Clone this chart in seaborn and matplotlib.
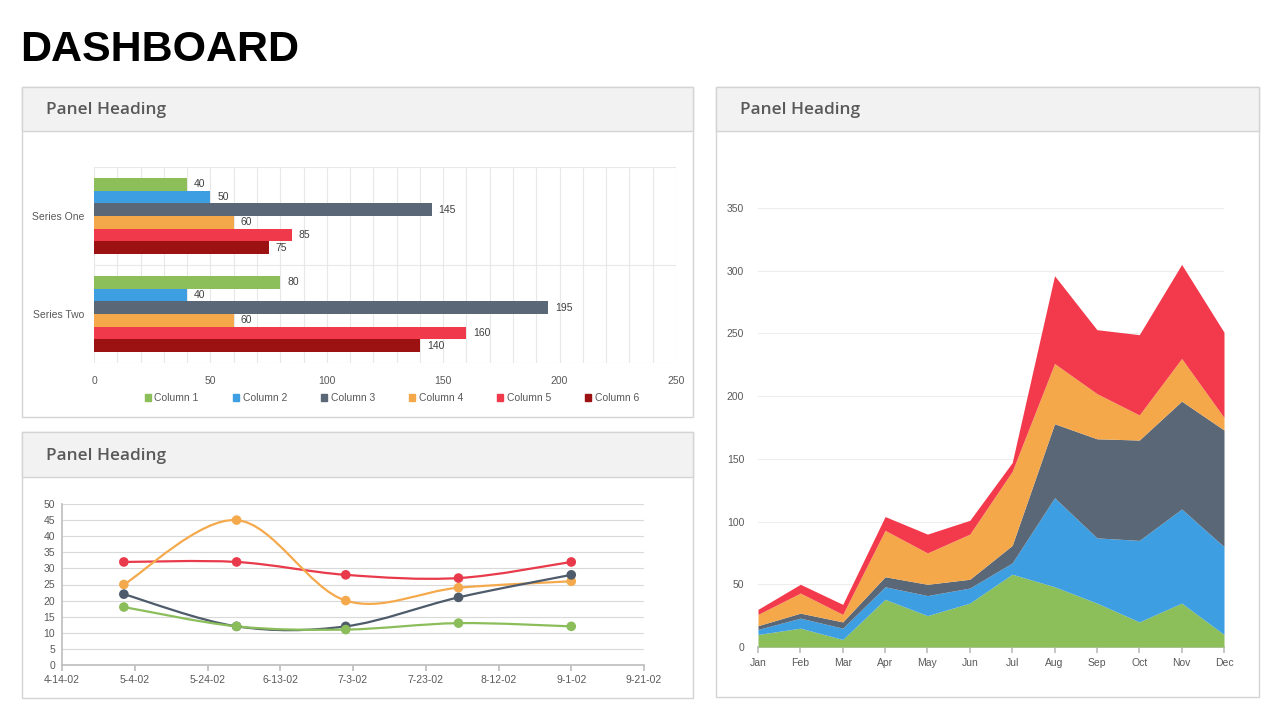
import matplotlib
matplotlib.use("Agg")
import matplotlib.pyplot as plt
import matplotlib.dates as mdates
from matplotlib.patches import Rectangle, PathPatch, Patch
from matplotlib.path import Path
from matplotlib.ticker import MultipleLocator, FuncFormatter
import pandas as pd
import seaborn as sns

# --- données du graphique en barres
bar_series = ["Series One", "Series Two"]
bar_columns = ["Column 1", "Column 2", "Column 3", "Column 4", "Column 5", "Column 6"]
series_one = [40, 50, 145, 60, 85, 75]
series_two = [80, 40, 195, 60, 160, 140]
bar_colors = ["#8CBF59", "#3D9FE2", "#5A6777", "#F5A84A", "#F0394B", "#9C1212"]

# --- données du graphique en courbes
line_dates = ["2002-05-01", "2002-06-01", "2002-07-01", "2002-08-01", "2002-09-01"]
line_names = ["red", "orange", "gray", "green"]
line_red = [32, 32, 28, 27, 32]
line_orange = [25, 45, 20, 24, 26]
line_gray = [22, 12, 12, 21, 28]
line_green = [18, 12, 11, 13, 12]
line_colors = {"red": "#E83A4A", "orange": "#F4AA4C", "gray": "#4E5B6B", "green": "#8BBE5A"}

# --- données du graphique en aires empilées
months = ["Jan", "Feb", "Mar", "Apr", "May", "Jun", "Jul", "Aug", "Sep", "Oct", "Nov", "Dec"]
area_green = [10, 15, 6, 38, 25, 35, 58, 48, 35, 20, 35, 10]
area_blue = [4, 8, 9, 10, 16, 12, 9, 71, 52, 65, 75, 70]
area_gray = [3, 4, 5, 8, 9, 7, 14, 59, 79, 80, 86, 93]
area_orange = [9, 16, 6, 37, 25, 36, 59, 48, 36, 20, 34, 10]
area_red = [4, 7, 8, 11, 15, 11, 7, 70, 51, 64, 75, 68]
area_colors = ["#8CBF59", "#3D9FE2", "#5A6777", "#F5A84A", "#F33A4C"]

sns.set_theme(style="white")
plt.rcParams["font.family"] = ["Liberation Sans", "DejaVu Sans"]

W, H = 1280, 720
fig = plt.figure(figsize=(W / 100, H / 100), dpi=100)
fig.patch.set_facecolor("white")


def box(x0, y0, x1, y1):
    # rectangle en pixels -> coordonnées figure
    return [x0 / W, 1 - y1 / H, (x1 - x0) / W, (y1 - y0) / H]


def panel(x0, y0, x1, y1, hy):
    l, b, w, h = box(x0, y0, x1, y1)
    fig.add_artist(Rectangle((l, b), w, h, transform=fig.transFigure,
                             facecolor="white", edgecolor="#D4D4D4", lw=1, zorder=-2))
    l, b, w, h = box(x0, y0, x1, hy)
    fig.add_artist(Rectangle((l, b), w, h, transform=fig.transFigure,
                             facecolor="#F2F2F2", edgecolor="#D4D4D4", lw=1, zorder=-1))
    fig.text((x0 + 24) / W, 1 - ((y0 + hy) / 2 + 1.5) / H, "Panel Heading",
             family=["Open Sans", "DejaVu Sans"], fontweight="semibold",
             fontsize=12.4, color="#595959", va="center", ha="left")


fig.text(20 / W, 1 - 50 / H, "DASHBOARD", fontsize=31, fontweight="bold",
         color="black", va="center", ha="left")

panel(22, 87, 693, 417, 131)
panel(22, 432, 693, 698, 477)
panel(716, 87, 1259, 697, 131)

tick_color = "#595959"

# ---------------- barres horizontales
ax1 = fig.add_axes(box(94, 167, 676, 363))
ax1.patch.set_alpha(0)
df_bar = pd.DataFrame({
    "series": [bar_series[0]] * 6 + [bar_series[1]] * 6,
    "column": bar_columns * 2,
    "value": series_one + series_two,
})
sns.barplot(data=df_bar, x="value", y="series", hue="column", hue_order=bar_columns,
            order=bar_series, palette=bar_colors, orient="h", saturation=1,
            width=0.78, linewidth=0, legend=False, ax=ax1, zorder=3)
for c in ax1.containers:
    ax1.bar_label(c, padding=5, fontsize=7.5, color="#404040")
ax1.set_xlim(0, 250)
ax1.set_ylim(1.5, -0.5)
ax1.set_xticks([0, 50, 100, 150, 200, 250])
ax1.xaxis.set_minor_locator(MultipleLocator(10))
ax1.set_yticks([-0.5, 0.5, 1.5], minor=True)
ax1.grid(axis="x", which="both", color="#E8E8E8", lw=0.8)
ax1.grid(axis="y", which="minor", color="#E8E8E8", lw=0.8)
ax1.set_xlabel("")
ax1.set_ylabel("")
for s in ax1.spines.values():
    s.set_visible(False)
ax1.tick_params(which="both", length=0, labelsize=7.5, colors=tick_color)
ax1.tick_params(axis="x", pad=9)
ax1.tick_params(axis="y", pad=7)
handles = [Patch(color=c, label=l) for c, l in zip(bar_colors, bar_columns)]
ax1.legend(handles=handles, loc="center", bbox_to_anchor=(0.512, -0.18), ncol=6,
           frameon=False, handlelength=0.55, handleheight=0.55, handletextpad=0.35,
           columnspacing=3.3, fontsize=7.5, labelcolor=tick_color)

# ---------------- courbes lissées
ax2 = fig.add_axes(box(62, 504, 644, 665))
ax2.patch.set_alpha(0)
dates = pd.to_datetime(line_dates)
line_values = {"red": line_red, "orange": line_orange, "gray": line_gray, "green": line_green}
df_line = pd.DataFrame({
    "date": list(dates) * 4,
    "value": line_red + line_orange + line_gray + line_green,
    "series": sum([[n] * 5 for n in line_names], []),
})
xs = mdates.date2num(dates)


def smooth_path(x, y):
    # courbe de Bézier (type Catmull-Rom, comme le lissage d'Excel)
    pts = list(zip(x, y))
    verts = [pts[0]]
    codes = [Path.MOVETO]
    for i in range(len(pts) - 1):
        p0 = pts[i - 1] if i > 0 else pts[i]
        p1, p2 = pts[i], pts[i + 1]
        p3 = pts[i + 2] if i + 2 < len(pts) else pts[i + 1]
        c1 = (p1[0] + (p2[0] - p0[0]) / 6, p1[1] + (p2[1] - p0[1]) / 6)
        c2 = (p2[0] - (p3[0] - p1[0]) / 6, p2[1] - (p3[1] - p1[1]) / 6)
        verts += [c1, c2, p2]
        codes += [Path.CURVE4] * 3
    return Path(verts, codes)


for z, name in enumerate(line_names):
    ax2.add_patch(PathPatch(smooth_path(xs, line_values[name]), fill=False,
                            edgecolor=line_colors[name], lw=1.6, zorder=3 + z))
sns.scatterplot(data=df_line, x="date", y="value", hue="series", hue_order=line_names,
                palette=line_colors, s=48, linewidth=0, legend=False, ax=ax2, zorder=8)
ticks = pd.date_range("2002-04-14", "2002-09-21", freq="20D")
ax2.set_xlim(mdates.date2num(ticks[0]), mdates.date2num(ticks[-1]))
ax2.set_xticks(mdates.date2num(ticks))


def fmt_date(v, pos):
    d = mdates.num2date(v)
    return f"{d.month}-{d.day}-{d:%y}"


ax2.xaxis.set_major_formatter(FuncFormatter(fmt_date))
ax2.set_ylim(0, 50)
ax2.set_yticks(range(0, 51, 5))
ax2.grid(axis="y", color="#D9D9D9", lw=0.8)
ax2.set_xlabel("")
ax2.set_ylabel("")
ax2.spines["top"].set_visible(False)
ax2.spines["right"].set_visible(False)
ax2.spines["left"].set_color("#BFBFBF")
ax2.spines["bottom"].set_color("#BFBFBF")
ax2.tick_params(axis="x", direction="out", length=4, color="#BFBFBF", labelsize=7.5,
                labelcolor=tick_color, pad=3, bottom=True)
ax2.tick_params(axis="y", length=0, labelsize=7.5, labelcolor=tick_color, pad=5)

# ---------------- aires empilées
ax3 = fig.add_axes(box(758, 208, 1224, 647))
ax3.patch.set_alpha(0)
ax3.stackplot(range(len(months)), area_green, area_blue, area_gray, area_orange, area_red,
              colors=area_colors, lw=0, zorder=3)
ax3.set_xlim(0, len(months) - 1)
ax3.set_ylim(0, 350)
ax3.set_yticks(range(0, 351, 50))
ax3.set_xticks(range(len(months)))
ax3.set_xticklabels(months)
ax3.grid(axis="y", color="#EDEDED", lw=0.8)
for k in ["top", "right", "left"]:
    ax3.spines[k].set_visible(False)
ax3.spines["bottom"].set_color("#BFBFBF")
ax3.tick_params(axis="x", direction="out", length=4, color="#BFBFBF", labelsize=7.5,
                labelcolor=tick_color, pad=4, bottom=True)
ax3.tick_params(axis="y", length=0, labelsize=7.5, labelcolor=tick_color, pad=10)

fig.savefig("out.png", dpi=100, facecolor="white")
